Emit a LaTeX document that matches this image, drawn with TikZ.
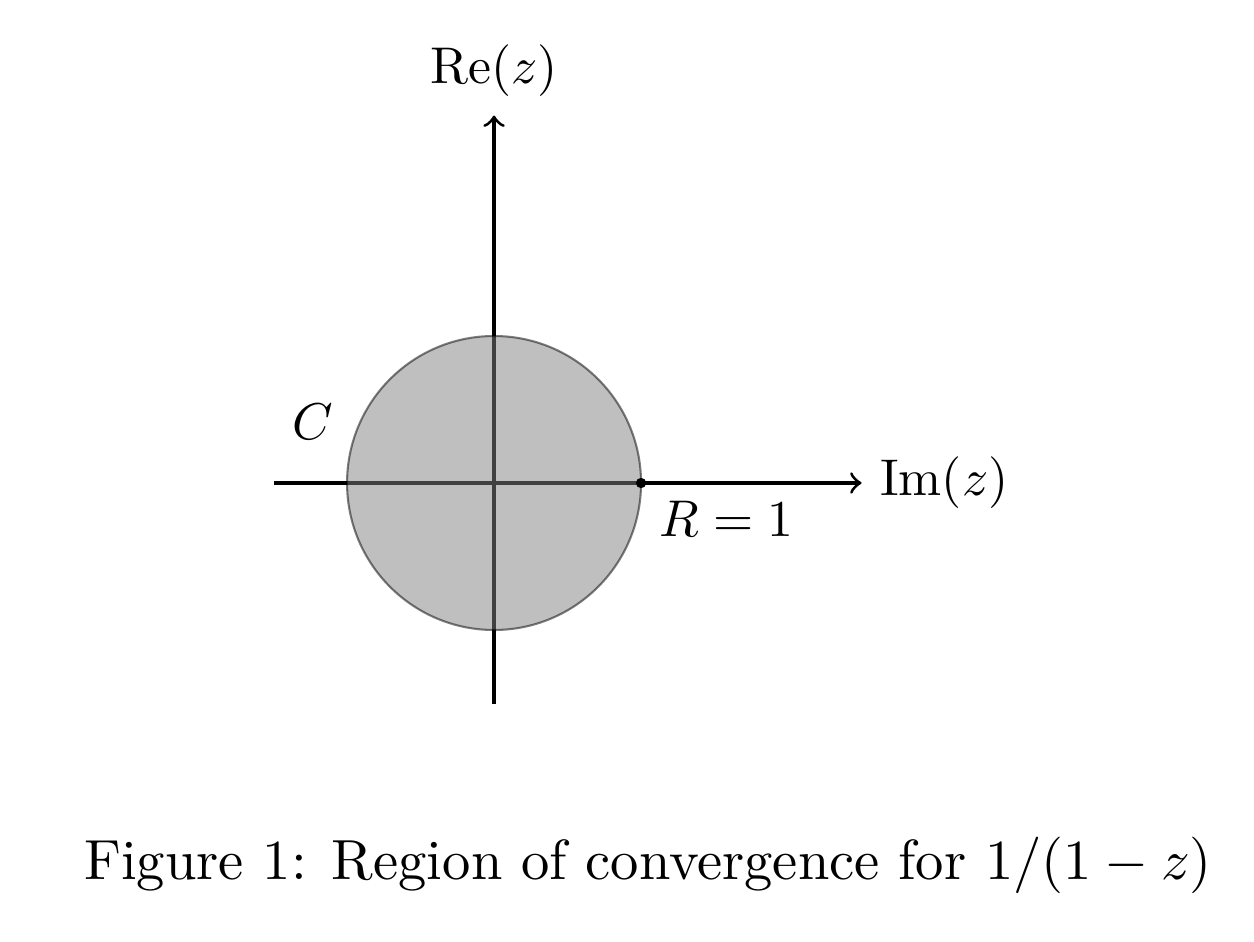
\documentclass[tikz,border=0pt]{standalone}
\usetikzlibrary{arrows}
\begin{document}
\begin{tikzpicture}[
  axis/.style={->, semithick},
  lbl/.style={font=\fontsize{10}{12}\selectfont},
  caplbl/.style={font=\fontsize{10.95}{13.6}\selectfont, anchor=base}
]
\useasboundingbox (-3.361,-3.122) rectangle (5.170,3.286);
\coordinate (xl) at (-1.5,0);
\coordinate (xr) at (2.5,0);
\coordinate (yb) at (0,-1.5);
\coordinate (yt) at (0,2.5);
\draw[axis] (xl) -- (xr) node[right, lbl] (im) {Im$(z)$};
\draw[axis] (yb) -- (yt) node[above, lbl] (re) {Re$(z)$};
\draw[fill=gray, opacity=0.5] (0,0) circle (1);
\coordinate (p) at (1,0);
\fill (p) circle (1pt);
\node[below right, lbl] (r) at (p) {$R=1$};
\node[lbl] (c) at (-1.235,0.415) {$C$};
\node[caplbl] (cap) at (1.048,-2.694) {Figure 1: Region of convergence for $1/(1-z)$};
\end{tikzpicture}
\end{document}
